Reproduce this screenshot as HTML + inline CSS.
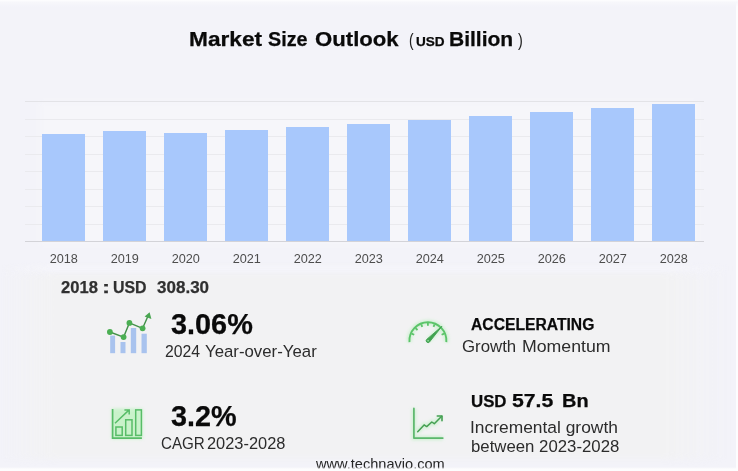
<!DOCTYPE html>
<html lang="en">
<head>
<meta charset="utf-8">
<title>Market Size Outlook</title>
<style>
  html,body{margin:0;padding:0;}
  body{width:738px;height:471px;overflow:hidden;background:#f3f3f9;font-family:"Liberation Sans",sans-serif;}
  #stage{position:relative;width:738px;height:471px;overflow:hidden;background:#f3f3f9;}
  #inner{position:absolute;left:0;top:0;width:738px;height:471px;filter:blur(0.6px);}
  .t{position:absolute;white-space:nowrap;line-height:1;transform-origin:0 0;}
  .b{font-weight:bold;-webkit-text-stroke:0.25px currentColor;}
  .yr{position:absolute;top:251.5px;width:61px;text-align:center;font-size:12.7px;line-height:14px;color:#4d4d4d;}
  .bar{position:absolute;width:43.3px;background:#a8c8fc;}
  .grid{position:absolute;left:25px;width:678.5px;height:1px;background:#eaeaee;}
</style>
</head>
<body>
<div id="stage">
<div id="inner">
  <!-- panel tint for stats -->
  <div style="position:absolute;left:0;top:273px;width:738px;height:186px;background:linear-gradient(to right,rgba(242,242,243,0) 0,rgba(242,242,243,1) 55px,rgba(242,242,243,1) 665px,rgba(242,242,243,0) 728px);filter:blur(3px);"></div>

  <div style="position:absolute;left:0;top:266px;width:738px;height:5px;background:linear-gradient(to right,rgba(245,245,250,0) 0,#f5f5fa 50px,#f5f5fa 670px,rgba(245,245,250,0) 730px);filter:blur(2px);"></div>
  <!-- plot bg + gridlines -->
  <div style="position:absolute;left:44px;top:106px;width:649px;height:134px;background:#f6f6fa;box-shadow:0 0 5px 4px #f6f6fa;"></div>
  <div class="grid" style="top:101px;background:#e3e3e7;"></div>
  <div class="grid" style="top:118.5px;"></div>
  <div class="grid" style="top:136px;"></div>
  <div class="grid" style="top:153.5px;"></div>
  <div class="grid" style="top:171px;"></div>
  <div class="grid" style="top:188.5px;"></div>
  <div class="grid" style="top:206px;"></div>
  <div class="grid" style="top:223.5px;"></div>
  <div class="grid" style="top:241px;background:#d3d3d8;"></div>

  <!-- bars -->
  <div class="bar" style="left:42.2px;top:133.5px;height:107.5px;"></div>
  <div class="bar" style="left:103.2px;top:131px;height:110px;"></div>
  <div class="bar" style="left:164.2px;top:132.5px;height:108.5px;"></div>
  <div class="bar" style="left:225.2px;top:129.5px;height:111.5px;"></div>
  <div class="bar" style="left:286.2px;top:127px;height:114px;"></div>
  <div class="bar" style="left:347.2px;top:123.5px;height:117.5px;"></div>
  <div class="bar" style="left:408.2px;top:120px;height:121px;"></div>
  <div class="bar" style="left:469.2px;top:116px;height:125px;"></div>
  <div class="bar" style="left:530.2px;top:112px;height:129px;"></div>
  <div class="bar" style="left:591.2px;top:108px;height:133px;"></div>
  <div class="bar" style="left:652.2px;top:103.5px;height:137.5px;"></div>

  <!-- year labels -->
  <div class="yr" style="left:33.25px;">2018</div>
  <div class="yr" style="left:94.25px;">2019</div>
  <div class="yr" style="left:155.25px;">2020</div>
  <div class="yr" style="left:216.25px;">2021</div>
  <div class="yr" style="left:277.25px;">2022</div>
  <div class="yr" style="left:338.25px;">2023</div>
  <div class="yr" style="left:399.25px;">2024</div>
  <div class="yr" style="left:460.25px;">2025</div>
  <div class="yr" style="left:521.25px;">2026</div>
  <div class="yr" style="left:582.25px;">2027</div>
  <div class="yr" style="left:643.25px;">2028</div>

  <!-- texts -->
  <div id="t1a" class="t b" style="left:188.89px;top:29.02px;font-size:20.3px;color:#0a0a0a;transform:scaleX(1.1185);">Market</div>
  <div id="t1b" class="t b" style="left:268.48px;top:29.02px;font-size:20.3px;color:#0a0a0a;transform:scaleX(0.9737);">Size</div>
  <div id="t1c" class="t b" style="left:314.92px;top:29.02px;font-size:20.3px;color:#0a0a0a;transform:scaleX(1.0921);">Outlook</div>
  <div id="t2" class="t" style="left:408.58px;top:29.72px;font-size:19.0px;color:#222;transform:scaleX(0.7238);">(</div>
  <div id="t3" class="t b" style="left:416.49px;top:36.16px;font-size:12.8px;color:#0a0a0a;transform:scaleX(1.0607);">USD</div>
  <div id="t4" class="t b" style="left:448.98px;top:29.02px;font-size:20.3px;color:#0a0a0a;transform:scaleX(1.0360);">Billion</div>
  <div id="t5" class="t" style="left:517.80px;top:29.72px;font-size:19.0px;color:#222;transform:scaleX(0.7606);">)</div>
  <div id="s1" class="t b" style="left:60.70px;top:279.27px;font-size:17.4px;color:#303030;transform:scaleX(0.9544);">2018</div>
  <div id="s2" class="t b" style="left:101.85px;top:279.27px;font-size:17.4px;color:#303030;transform:scaleX(1.3994);">:</div>
  <div id="s3" class="t b" style="left:112.57px;top:279.27px;font-size:17.4px;color:#303030;transform:scaleX(0.9156);">USD</div>
  <div id="s4" class="t b" style="left:157.11px;top:279.27px;font-size:17.4px;color:#303030;transform:scaleX(0.9788);">308.30</div>
  <div id="a1" class="t b" style="left:171.41px;top:310.28px;font-size:29.2px;color:#0a0a0a;transform:scaleX(0.9884);">3.06%</div>
  <div id="a2a" class="t" style="left:165.45px;top:343.89px;font-size:16.9px;color:#2c2c2c;transform:scaleX(0.9345);">2024</div>
  <div id="a2b" class="t" style="left:205.22px;top:343.89px;font-size:16.9px;color:#2c2c2c;transform:scaleX(0.9943);">Year-over-Year</div>
  <div id="a3" class="t b" style="left:170.91px;top:402.08px;font-size:29.2px;color:#0a0a0a;transform:scaleX(0.9872);">3.2%</div>
  <div id="a4a" class="t" style="left:160.95px;top:436.49px;font-size:16.9px;color:#2c2c2c;transform:scaleX(0.8973);">CAGR</div>
  <div id="a4b" class="t" style="left:206.72px;top:436.49px;font-size:16.9px;color:#2c2c2c;transform:scaleX(0.9704);">2023-2028</div>
  <div id="r1" class="t b" style="left:471.41px;top:316.58px;font-size:16.8px;color:#0a0a0a;transform:scaleX(0.9337);">ACCELERATING</div>
  <div id="r2a" class="t" style="left:461.88px;top:338.89px;font-size:16.9px;color:#2c2c2c;transform:scaleX(0.9950);">Growth</div>
  <div id="r2b" class="t" style="left:522.19px;top:338.89px;font-size:16.9px;color:#2c2c2c;transform:scaleX(1.0488);">Momentum</div>
  <div id="r3" class="t b" style="left:470.87px;top:394.46px;font-size:16.0px;color:#0a0a0a;transform:scaleX(1.0505);">USD</div>
  <div id="r4a" class="t b" style="left:512.38px;top:391.59px;font-size:18.2px;color:#0a0a0a;transform:scaleX(1.1658);">57.5</div>
  <div id="r4b" class="t b" style="left:562.25px;top:391.59px;font-size:18.2px;color:#0a0a0a;transform:scaleX(1.0951);">Bn</div>
  <div id="r5" class="t" style="left:470.16px;top:420.29px;font-size:16.9px;color:#2c2c2c;transform:scaleX(1.0297);">Incremental growth</div>
  <div id="r6" class="t" style="left:471.07px;top:439.09px;font-size:16.9px;color:#2c2c2c;transform:scaleX(0.9935);">between 2023-2028</div>
  <div id="w1" class="t" style="left:316.04px;top:457.92px;font-size:13.8px;color:#262626;transform:scaleX(1.0556);">www.technavio.com</div>

  <!-- icons -->
  <svg style="position:absolute;left:0;top:0;" width="738" height="471" viewBox="0 0 738 471">
    <defs>
      <filter id="soft" x="-20%" y="-20%" width="140%" height="140%"><feGaussianBlur stdDeviation="0.45"/></filter>
      <filter id="glow" x="-40%" y="-40%" width="180%" height="180%"><feGaussianBlur stdDeviation="1.4"/></filter>
    </defs>
    <!-- icon 1: bars + line -->
    <g filter="url(#soft)">
      <rect x="110.2" y="335.6" width="4.9" height="17.6" fill="#a9c3ee"/>
      <rect x="120.5" y="342" width="5" height="11.2" fill="#a9c3ee"/>
      <rect x="130.8" y="328" width="5.4" height="25.2" fill="#a9c3ee"/>
      <rect x="141.5" y="333.7" width="5.3" height="19.5" fill="#a9c3ee"/>
      <polyline points="109.9,332 123.6,337.1 129.4,322.9 142.6,328.3 147.8,316.5" fill="none" stroke="#439149" stroke-width="1.4"/>
      <path d="M144.6,316.6 L149.6,312.2 L151.4,318.9 Z" fill="#4aa651"/>
      <circle cx="109.9" cy="332" r="2.9" fill="#4caf52"/>
      <circle cx="123.6" cy="337.1" r="2.9" fill="#4caf52"/>
      <circle cx="129.4" cy="322.9" r="2.9" fill="#4caf52"/>
      <circle cx="142.6" cy="328.3" r="2.9" fill="#4caf52"/>
    </g>
    <!-- icon 2: outlined bar chart -->
    <rect x="111.6" y="408.6" width="31" height="30.6" fill="#c2f3c4" opacity="0.85" filter="url(#glow)"/>
    <g fill="none" stroke="#58bd68" stroke-width="1.5" filter="url(#soft)">
      <path d="M112.6,409 V438.2 H141.9" stroke-width="1.7"/>
      <rect x="115.9" y="427" width="6.3" height="8.4"/>
      <rect x="125.7" y="419.8" width="6.3" height="15.6"/>
      <rect x="135.7" y="409.9" width="5.7" height="25.5"/>
      <path d="M115,423.2 L128.6,410.4 M124.4,410 H129.2 V414.6"/>
    </g>
    <!-- icon 3: gauge -->
    <g fill="none" stroke="#b4efb9" stroke-width="5" opacity="0.55" filter="url(#glow)">
      <path d="M409.45,342.09 A18.5,18.5 0 1 1 446.35,342.09"/>
      <path d="M441.8,326.4 L428.1,340.7"/>
    </g>
    <g fill="none" stroke="#5cc46a" stroke-width="1.9" stroke-linecap="butt" filter="url(#soft)">
      <path d="M409.45,342.09 A18.5,18.5 0 1 1 446.35,342.09"/>
      <g stroke-width="1.8">
        <path d="M414.20,334.70 L411.64,333.56"/>
        <path d="M417.48,330.01 L415.54,328.00"/>
        <path d="M422.28,326.89 L421.23,324.30"/>
        <path d="M427.90,325.80 L427.90,323.00"/>
        <path d="M433.52,326.89 L434.57,324.30"/>
        <path d="M441.60,334.70 L444.16,333.56"/>
      </g>
      <path d="M441.93,326.27 L429.47,342.02 A1.9,1.9 0 0 1 426.73,339.38 Z" fill="#41a24f" stroke="#41a24f" stroke-width="0.9" stroke-linejoin="round"/>
      <circle cx="428.1" cy="340.7" r="0.9" fill="#8fd89a" stroke="none"/>
    </g>
    <!-- icon 4: line chart -->
    <g fill="none" stroke="#b4efb9" stroke-width="4.5" opacity="0.55" filter="url(#glow)">
      <path d="M413.9,408.4 V438.1 H442.8"/>
      <path d="M417.7,431.7 L424.1,424.9 L426.7,426.6 L431.8,422 L434.3,423.7 L441.4,416.5"/>
    </g>
    <g fill="none" stroke-linecap="round" stroke-linejoin="round" filter="url(#soft)">
      <path d="M413.9,408.4 V438.1 H442.8" stroke="#5cb86c" stroke-width="1.7"/>
      <path d="M417.7,431.7 L424.1,424.9 L426.7,426.6 L431.8,422 L434.3,423.7 L441.7,416.3" stroke="#45a052" stroke-width="1.5"/>
      <path d="M437.3,416 H442 V420.7" stroke="#45a052" stroke-width="1.6"/>
    </g>
  </svg>
</div>
  <div style="position:absolute;left:735.8px;top:0;width:2.2px;height:471px;background:#fdfdfe;"></div>
  <div style="position:absolute;left:0;top:0;width:738px;height:7px;background:linear-gradient(to bottom,#fdfdfe 0,#fbfbfd 1px,#f7f7fb 2px,rgba(247,247,251,0) 7px);"></div>
  <div style="position:absolute;left:0;top:466.5px;width:738px;height:4.5px;background:linear-gradient(to bottom,rgba(253,253,254,0) 0,#fdfdfe 2px,#fdfdfe 4.5px);"></div>
</div>
</body>
</html>
